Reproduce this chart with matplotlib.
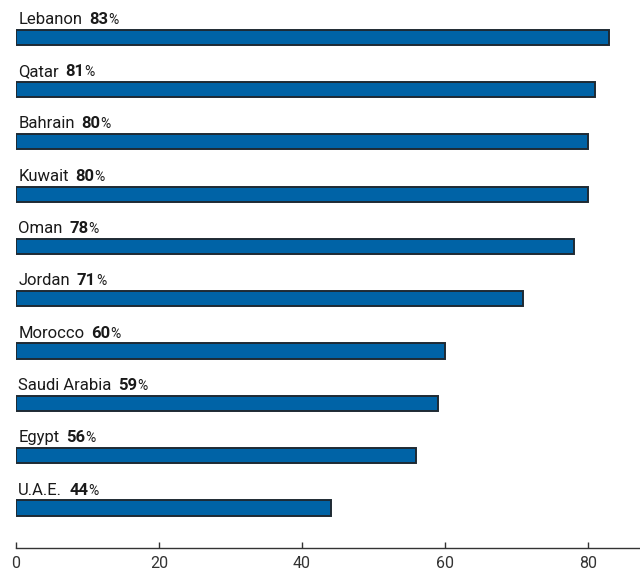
import matplotlib
matplotlib.use("Agg")
import matplotlib.pyplot as plt

countries = ["Lebanon", "Qatar", "Bahrain", "Kuwait", "Oman", "Jordan",
             "Morocco", "Saudi Arabia", "Egypt", "U.A.E."]
values = [83, 81, 80, 80, 78, 71, 60, 59, 56, 44]
xticks = [0, 20, 40, 60, 80]

plt.rcParams['font.family'] = ['Roboto', 'DejaVu Sans']

fig = plt.figure(figsize=(6.4, 5.71), dpi=100)
ax = fig.add_axes([16 / 640, 23 / 571, 624 / 640, 548 / 571])

pos = list(range(len(countries)))
ax.barh(pos, values, height=0.29, color="#0063a6", edgecolor="#1e2a33",
        linewidth=1.4, zorder=2)

for i, (name, v) in enumerate(zip(countries, values)):
    t = ax.text(0.3, i - 0.34, name, fontsize=12, color="#1a1a1a",
                ha="left", va="center")
    n = ax.annotate(f"{v}", xy=(1, 0), xycoords=t, xytext=(5, 0),
                    textcoords="offset points", fontsize=12,
                    fontweight="bold", color="#1a1a1a", ha="left", va="bottom")
    ax.annotate("%", xy=(1, 0), xycoords=n, xytext=(0, 0),
                textcoords="offset points", fontsize=10,
                color="#1a1a1a", ha="left", va="bottom")

ax.set_xlim(0, 87.3)
ax.set_ylim(9.765, -0.71)
ax.set_yticks([])
ax.set_xticks(xticks)
ax.tick_params(axis="x", direction="in", length=4, width=1, color="#333333",
               labelsize=11.5, labelcolor="#333333", pad=6)
for s in ["top", "right", "left"]:
    ax.spines[s].set_visible(False)
ax.spines["bottom"].set_color("#333333")
ax.spines["bottom"].set_linewidth(1)

fig.savefig("out.png", dpi=100)
